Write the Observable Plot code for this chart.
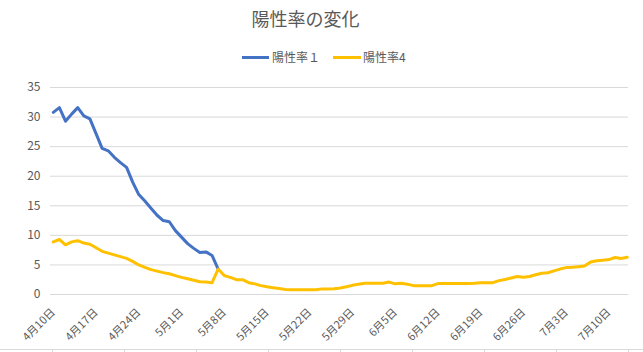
<!DOCTYPE html>
<html>
<head>
<meta charset="utf-8">
<script src="https://cdn.jsdelivr.net/npm/d3@7"></script>
<script src="https://cdn.jsdelivr.net/npm/@observablehq/plot@0.6"></script>
<style>
  html, body { margin: 0; padding: 0; background: #fff; }
  #wrap { position: relative; width: 643px; height: 352px; overflow: hidden; font-family: "Noto Sans CJK JP", "Noto Sans", sans-serif; color: #595959; }
  #title { position: absolute; left: 0; width: 611px; top: 9px; text-align: center; font-size: 18px; line-height: 18px; color: #595959; }
  .leg { position: absolute; top: 51px; font-size: 12px; line-height: 12px; color: #595959; white-space: nowrap; }
  .sw { position: absolute; top: 56px; height: 3px; }
  #cells { position: absolute; left: 0; top: 349px; width: 643px; height: 3px; border-top: 1px solid #d9d9d9;
    background: repeating-linear-gradient(to right, #d9d9d9 0 1px, transparent 1px 72px); background-position: 52px 0; }
  #chart { position: absolute; left: 0; top: 0; }
</style>
</head>
<body>
<div id="wrap">
  <div id="chart"></div>
  <div id="title"></div>
  <div class="sw" id="sw1" style="left:242px;width:27px;"></div>
  <div class="leg" id="lg1" style="left:272px;"></div>
  <div class="sw" id="sw2" style="left:333px;width:28px;"></div>
  <div class="leg" id="lg2" style="left:363px;"></div>
  <div id="cells"></div>
</div>
<script>
const titleText = "陽性率の変化";
const seriesNames = ["陽性率１", "陽性率4"];
const seriesColors = ["#4472C4", "#FFC000"];
const startDate = "2020-04-10";

// 陽性率１ (daily, from 4/10)
const rate1 = [30.8, 31.6, 29.3, 30.5, 31.6, 30.2, 29.7, 27.2, 24.7, 24.3,
  23.2, 22.3, 21.5, 19.0, 16.9, 15.8, 14.6, 13.4, 12.5, 12.3,
  10.8, 9.7, 8.6, 7.8, 7.1, 7.2, 6.6, 4.3];

// 陽性率4 (daily, from 4/10)
const rate4 = [8.9, 9.3, 8.4, 8.9, 9.1, 8.7, 8.5, 7.9, 7.3, 7.0,
  6.7, 6.4, 6.1, 5.6, 5.0, 4.6, 4.2, 3.95, 3.7, 3.5,
  3.2, 2.9, 2.65, 2.4, 2.15, 2.1, 2.0, 4.3, 3.2, 2.9,
  2.5, 2.5, 2.0, 1.8, 1.5, 1.3, 1.15, 1.0, 0.85, 0.8,
  0.8, 0.8, 0.8, 0.8, 0.95, 0.95, 0.96, 1.1, 1.3, 1.55,
  1.75, 1.9, 1.9, 1.9, 1.9, 2.1, 1.8, 1.9, 1.75, 1.5,
  1.5, 1.5, 1.5, 1.85, 1.85, 1.85, 1.85, 1.85, 1.85, 1.9,
  2.0, 2.0, 2.0, 2.35, 2.55, 2.8, 3.05, 2.9, 3.05, 3.35,
  3.6, 3.67, 4.0, 4.3, 4.55, 4.6, 4.7, 4.8, 5.5, 5.7,
  5.8, 5.9, 6.25, 6.1, 6.3];

const xTicks = ["2020-04-10", "2020-04-17", "2020-04-24", "2020-05-01", "2020-05-08",
  "2020-05-15", "2020-05-22", "2020-05-29", "2020-06-05", "2020-06-12",
  "2020-06-19", "2020-06-26", "2020-07-03", "2020-07-10"];
const yTicks = [0, 5, 10, 15, 20, 25, 30, 35];

const start = new Date(startDate + "T00:00:00Z");
const toRows = (arr, name) => arr.map((v, i) => ({date: d3.utcDay.offset(start, i), value: v, series: name}));
const rows1 = toRows(rate1, seriesNames[0]);
const rows4 = toRows(rate4, seriesNames[1]);
const lastDate = d3.utcDay.offset(start, rate4.length - 1);

document.getElementById("title").textContent = titleText;
document.getElementById("lg1").textContent = seriesNames[0];
document.getElementById("lg2").textContent = seriesNames[1];
document.getElementById("sw1").style.background = seriesColors[0];
document.getElementById("sw2").style.background = seriesColors[1];

const chart = Plot.plot({
  width: 643,
  height: 352,
  marginTop: 87,
  marginBottom: 58,
  marginLeft: 50,
  marginRight: 15,
  style: {fontFamily: '"Noto Sans CJK JP", "Noto Sans", sans-serif', fontSize: "12px", color: "#595959", background: "transparent"},
  x: {type: "utc", domain: [d3.utcHour.offset(start, -11), d3.utcHour.offset(lastDate, 5)]},
  y: {domain: [0, 35]},
  marks: [
    Plot.gridY(yTicks, {stroke: "#d9d9d9", strokeOpacity: 1, strokeWidth: 1}),
    Plot.axisY(yTicks, {tickSize: 0, tickPadding: 10, fill: "#595959", label: null, fontSize: 12}),
    Plot.axisX(xTicks.map(s => new Date(s + "T00:00:00Z")), {
      tickSize: 0, tickPadding: 16, tickRotate: -45, textAnchor: "end", fill: "#595959", label: null, fontSize: 11,
      tickFormat: d => `${d.getUTCMonth() + 1}月${d.getUTCDate()}日`
    }),
    Plot.line(rows1, {x: "date", y: "value", stroke: seriesColors[0], strokeWidth: 3, strokeLinejoin: "round", strokeLinecap: "round"}),
    Plot.line(rows4, {x: "date", y: "value", stroke: seriesColors[1], strokeWidth: 3, strokeLinejoin: "round", strokeLinecap: "round"})
  ]
});
document.getElementById("chart").appendChild(chart);
</script>
</body>
</html>
